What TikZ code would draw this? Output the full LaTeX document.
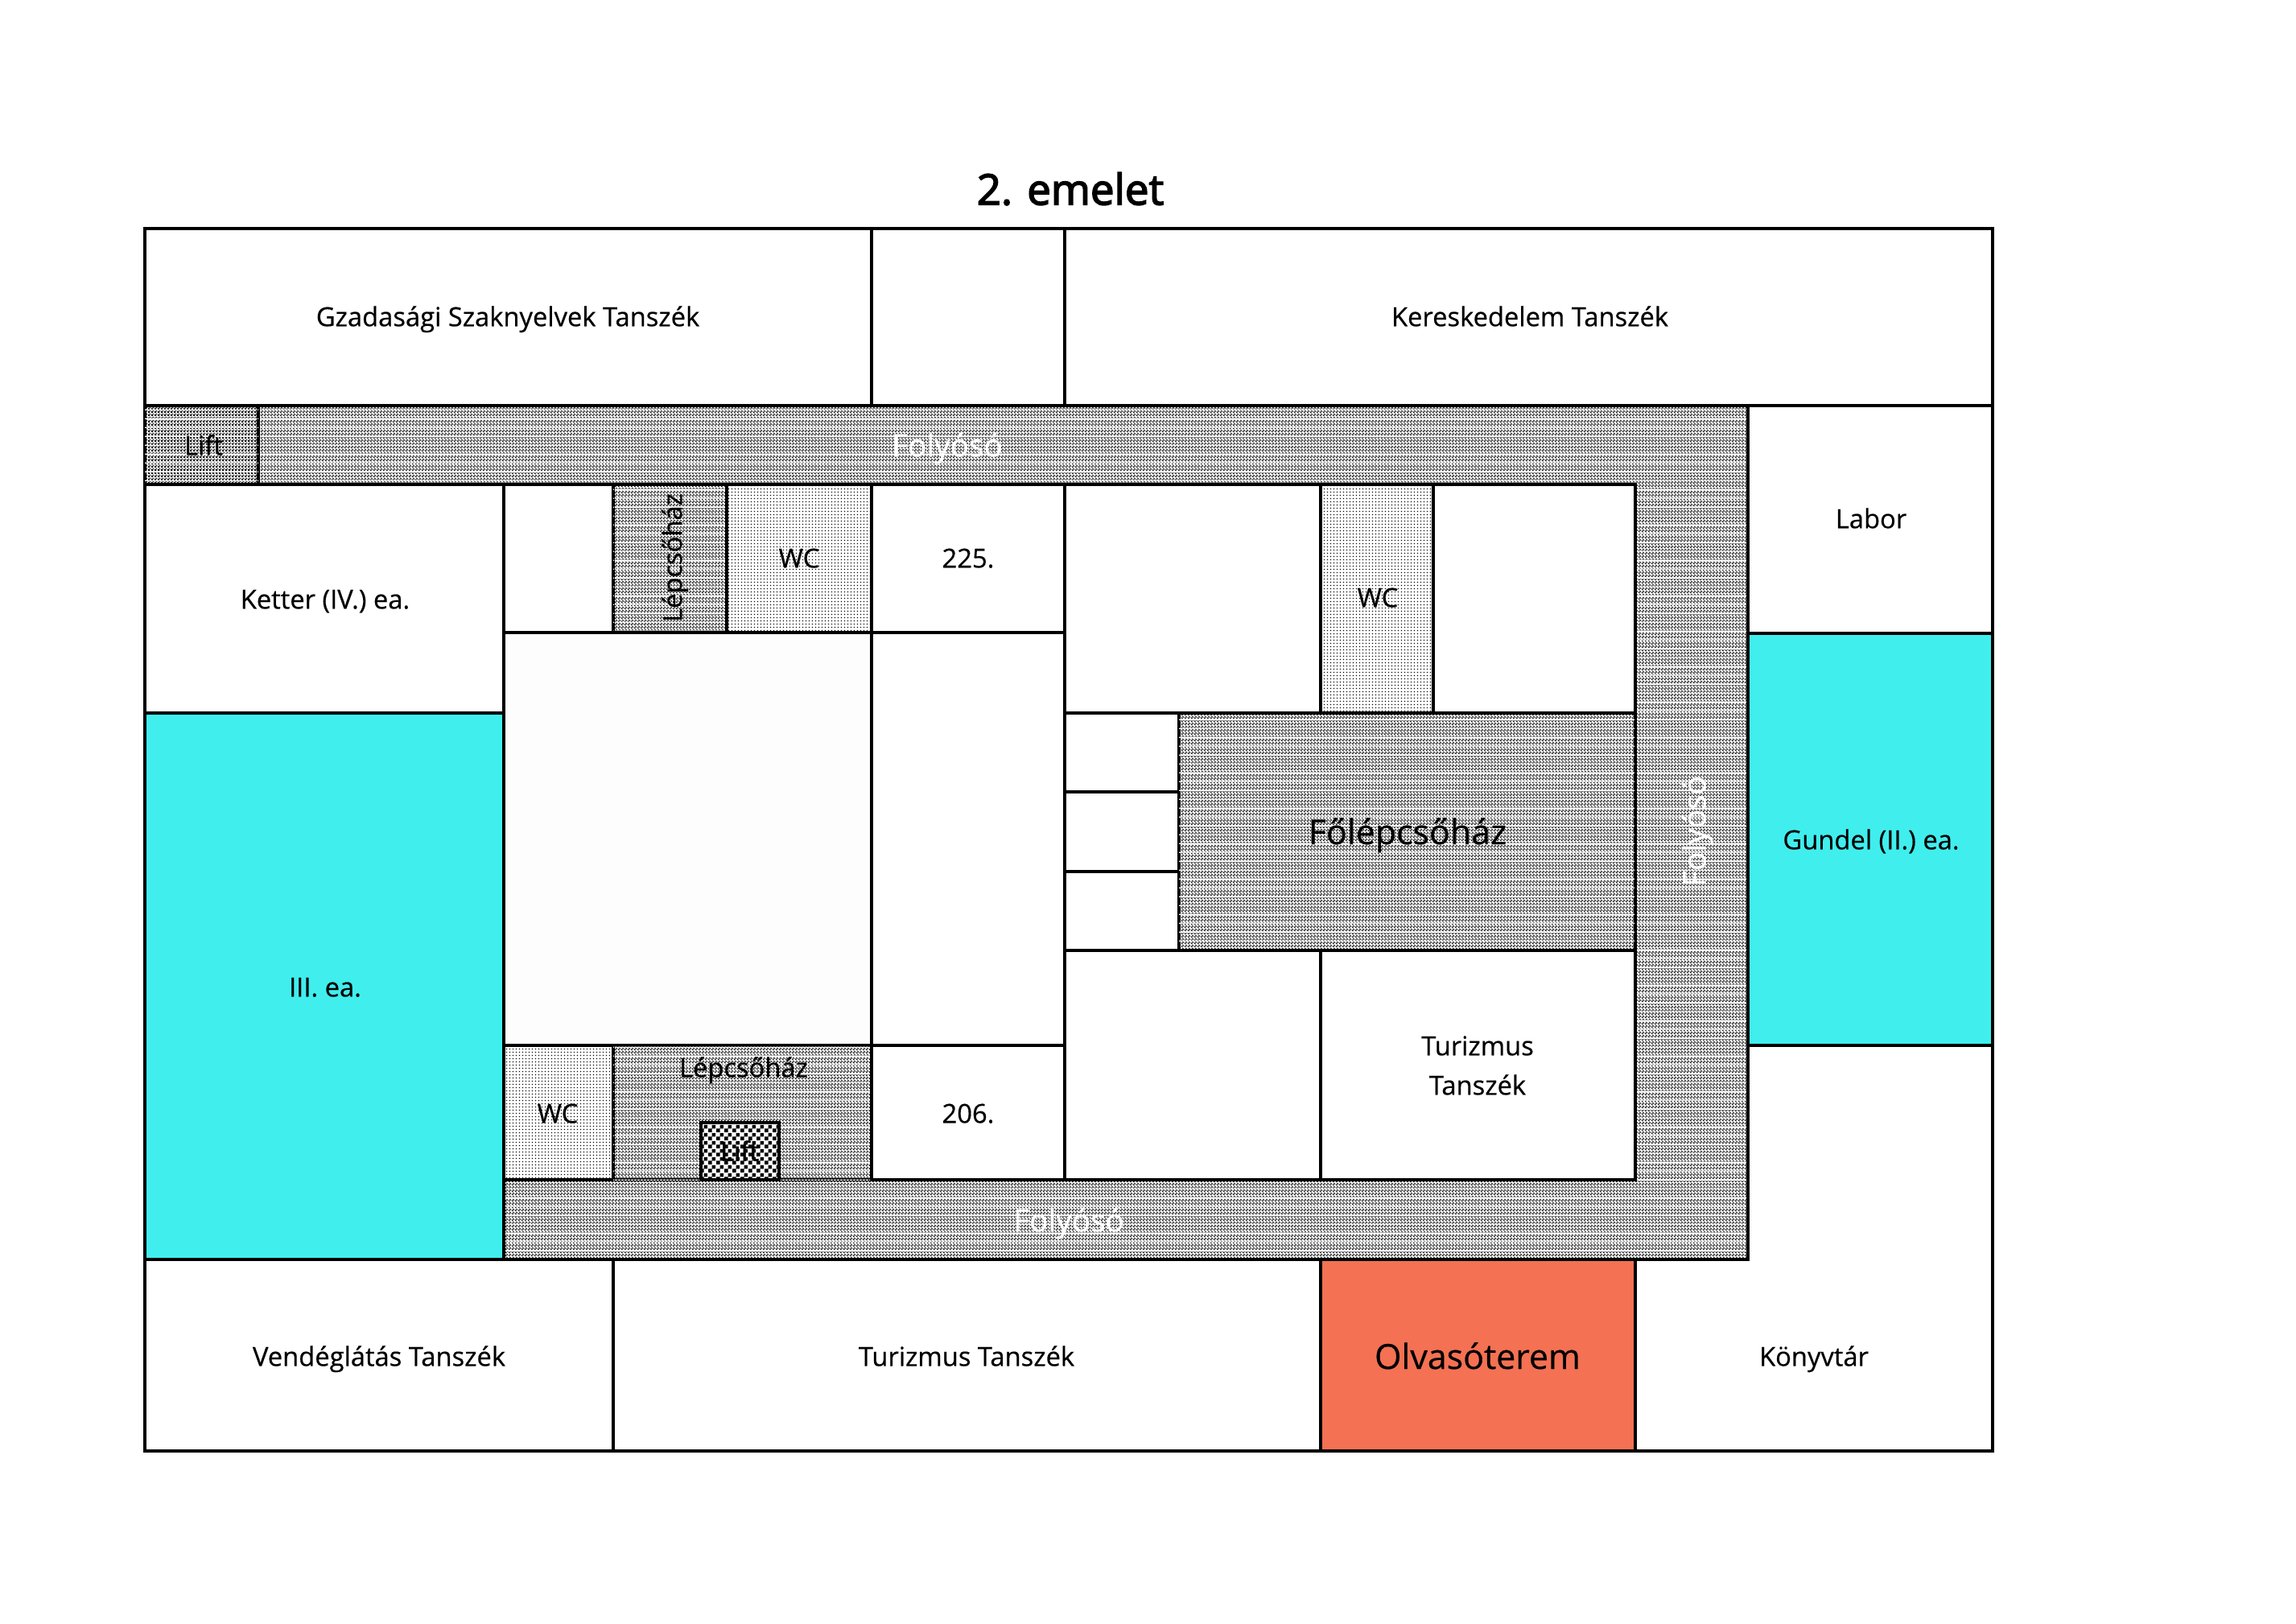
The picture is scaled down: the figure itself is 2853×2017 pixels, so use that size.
\documentclass[tikz,border=0pt]{standalone}
\usepackage{fontspec}
\setmainfont[RawFeature={embolden=0.5}]{Open Sans}
\newfontfamily\heavyfont[RawFeature={embolden=1.6}]{Open Sans}
\newfontfamily\titlefont[RawFeature={embolden=3}]{Open Sans}
\usetikzlibrary{patterns}
\newcommand{\pxrect}[4]{\pgfpathrectangle{\pgfpoint{#1*0.284528pt}{#2*0.284528pt}}{\pgfpoint{#3*0.284528pt}{#4*0.284528pt}}}
% fine diagonal hatch, 4 px period
\pgfdeclarepatternformonly{hatchpx}{\pgfqpoint{0pt}{0pt}}{\pgfqpoint{1.138112pt}{1.138112pt}}{\pgfqpoint{1.138112pt}{1.138112pt}}{%
  \pxrect{0}{0}{2}{1}\pxrect{3}{1}{1}{1}\pxrect{0}{1}{1}{1}\pxrect{2}{2}{2}{1}\pxrect{1}{3}{2}{1}\pgfusepath{fill}}
% white bands every 11 px
\pgfdeclarepatternformonly{bandpx}{\pgfqpoint{0pt}{0pt}}{\pgfqpoint{1.138112pt}{3.129808pt}}{\pgfqpoint{1.138112pt}{3.129808pt}}{%
  \pxrect{0}{0}{4}{1.5}\pgfusepath{fill}}
% dense fine checker, 4 px period
\pgfdeclarepatternformonly{checkpx}{\pgfqpoint{0pt}{0pt}}{\pgfqpoint{1.138112pt}{1.138112pt}}{\pgfqpoint{1.138112pt}{1.138112pt}}{%
  \pxrect{0}{0}{2}{2}\pxrect{2}{2}{2}{2}\pxrect{2}{0}{1}{1}\pxrect{0}{2}{1}{1}\pgfusepath{fill}}
% coarse checker, 10 px period
\pgfdeclarepatternformonly{coarsepx}{\pgfqpoint{0pt}{0pt}}{\pgfqpoint{2.84528pt}{2.84528pt}}{\pgfqpoint{2.84528pt}{2.84528pt}}{%
  \pxrect{0}{0}{5}{5}\pxrect{5}{5}{5}{5}\pgfusepath{fill}}
% dots, 4 px period
\pgfdeclarepatternformonly{dotpx}{\pgfqpoint{0pt}{0pt}}{\pgfqpoint{1.138112pt}{1.138112pt}}{\pgfqpoint{1.138112pt}{1.138112pt}}{%
  \pxrect{1}{1}{1.5}{1.5}\pgfusepath{fill}}
\definecolor{aula}{HTML}{40EEEE}
\definecolor{olvas}{HTML}{F47153}
\definecolor{bigroom}{HTML}{FDFDFD}
\tikzset{
  x=0.01cm,y=-0.01cm,
  wall/.style={draw=black,line width=1pt,line join=miter},
  room/.style={wall,rectangle,inner sep=0pt,outer sep=0pt},
  hatched/.style={preaction={fill=white},pattern=hatchpx,pattern color=black,postaction={pattern=bandpx,pattern color=white}},
  lifttop/.style={preaction={fill=white},pattern=checkpx,pattern color=black,postaction={pattern=bandpx,pattern color=white}},
  liftlow/.style={preaction={fill=white},pattern=coarsepx,pattern color=black},
  dotted room/.style={preaction={fill=white},pattern=dotpx,pattern color=black},
  txt/.style={inner sep=0pt,text height=9pt,text depth=2pt,font=\fontsize{9.3}{11}\selectfont,text=black},
  corr/.style={txt,text height=10.1pt,text=white,font=\fontsize{11}{13}\selectfont},
  big/.style={txt,text height=12.1pt,text depth=3pt,font=\fontsize{12.2}{14}\selectfont},
}
\newcommand{\room}[6]{\node[room,minimum width={(#4-#2)*0.01cm},minimum height={(#5-#3)*0.01cm},#6] (#1) at ({(#2+#4)/2},{(#3+#5)/2}) {};}
\begin{document}
\begin{tikzpicture}
\useasboundingbox (0,0) rectangle (2853,2017);
\fill[white] (0,0) rectangle (2853,2017);
% corridor ring
\path[wall,hatched] (321,504) -- (2172,504) -- (2172,1565) -- (626,1565) -- (626,1466) -- (2032,1466) -- (2032,602) -- (321,602) -- cycle;
% top row
\room{gazd}{180}{284}{1083}{504}{}
\room{topmid}{1083}{284}{1323}{504}{}
\room{ker}{1323}{284}{2476}{504}{}
\room{lifta}{180}{504}{321}{602}{lifttop}
% right wing
\room{labor}{2172}{504}{2476}{787}{}
\room{gundel}{2172}{787}{2476}{1299}{fill=aula}
\path[wall,fill=white] (2172,1299) -- (2476,1299) -- (2476,1803) -- (2032,1803) -- (2032,1565) -- (2172,1565) -- cycle;
% left wing
\room{ketter}{180}{602}{626}{886}{}
\room{harom}{180}{886}{626}{1565}{fill=aula}
% inner block
\room{blank1}{626}{602}{762}{786}{}
\room{stair1}{762}{602}{903}{786}{hatched}
\room{wc1}{903}{602}{1083}{786}{dotted room}
\room{r225}{1083}{602}{1323}{786}{}
\room{bigr}{626}{786}{1083}{1299}{fill=bigroom}
\room{midr}{1083}{786}{1323}{1299}{}
\room{blank2}{1323}{602}{1641}{886}{}
\room{wc2}{1641}{602}{1781}{886}{dotted room}
\room{blank3}{1781}{602}{2032}{886}{}
\room{s1}{1323}{886}{1465}{984}{}
\room{s2}{1323}{984}{1465}{1083}{}
\room{s3}{1323}{1083}{1465}{1181}{}
\room{fole}{1465}{886}{2032}{1181}{hatched}
\room{blank4}{1323}{1181}{1641}{1466}{}
\room{tur1}{1641}{1181}{2032}{1466}{}
\room{wc3}{626}{1299}{762}{1466}{dotted room}
\room{stair2}{762}{1299}{1083}{1466}{hatched}
\room{liftb}{871}{1395}{968}{1466}{liftlow}
\room{r206}{1083}{1299}{1323}{1466}{}
% bottom row
\room{vend}{180}{1565}{762}{1803}{}
\room{tur2}{762}{1565}{1641}{1803}{}
\room{olv}{1641}{1565}{2032}{1803}{fill=olvas}
% labels
\node[txt,text height=11pt,text depth=0pt,font=\fontsize{15}{17}\selectfont\titlefont] (title) at (1330,235) {2. emelet};
\node[txt] (lgazd) at (631,393) {Gzadasági Szaknyelvek Tanszék};
\node[txt] (lker) at (1901,393) {Kereskedelem Tanszék};
\node[txt] (llifta) at (253,553) {Lift};
\node[corr] (lf1) at (1177,553) {Folyósó};
\node[txt] (llabor) at (2325,644) {Labor};
\node[txt] (lketter) at (404,744) {Ketter (IV.) ea.};
\node[txt,rotate=90] (lst1) at (835,693) {Lépcsőház};
\node[txt] (lwc1) at (993,693) {WC};
\node[txt] (l225) at (1203,693) {225.};
\node[txt] (lwc2) at (1712,742) {WC};
\node[big] (lfole) at (1749,1033) {Főlépcsőház};
\node[corr,rotate=90] (lf2) at (2105,1033) {Folyósó};
\node[txt] (lgundel) at (2325,1043) {Gundel (II.) ea.};
\node[txt] (lharom) at (404,1226) {III. ea.};
\node[txt] (ltur1a) at (1836,1299) {Turizmus};
\node[txt] (ltur1b) at (1836,1348) {Tanszék};
\node[txt] (lst2) at (924,1326) {Lépcsőház};
\node[txt] (lwc3) at (693,1383) {WC};
\node[txt,font=\fontsize{9.3}{11}\selectfont\heavyfont] (lliftb) at (919,1430) {Lift};
\node[txt] (l206) at (1203,1383) {206.};
\node[corr] (lf3) at (1328,1516) {Folyósó};
\node[txt] (lvend) at (471,1685) {Vendéglátás Tanszék};
\node[txt] (ltur2) at (1201,1685) {Turizmus Tanszék};
\node[big] (lolv) at (1836,1685) {Olvasóterem};
\node[txt] (lkonyv) at (2254,1685) {Könyvtár};
\end{tikzpicture}
\end{document}
